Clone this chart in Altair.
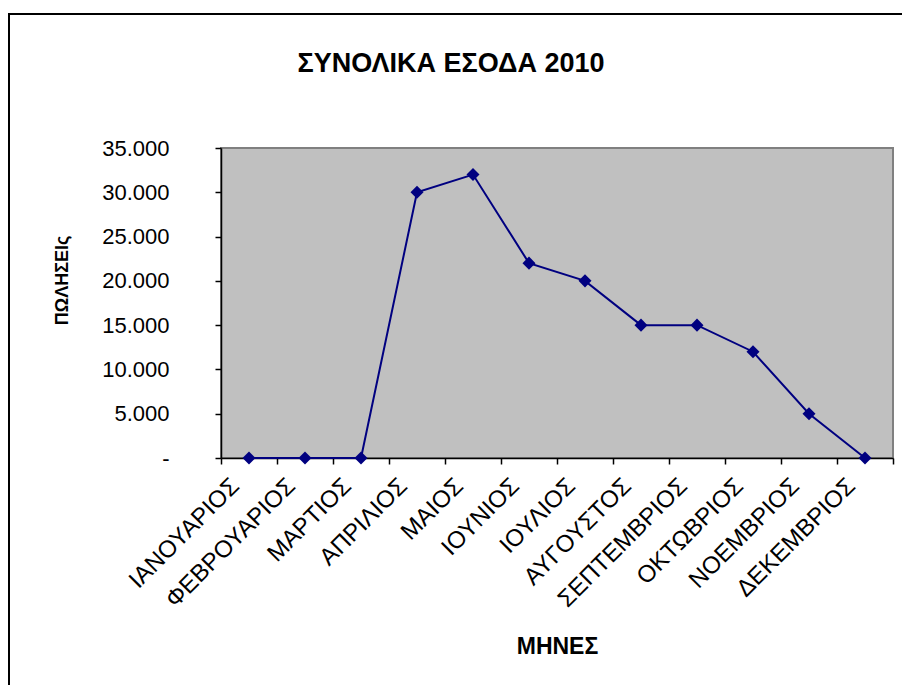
import altair as alt
import pandas as pd

months = ["ΙΑΝΟΥΑΡΙΟΣ", "ΦΕΒΡΟΥΑΡΙΟΣ", "ΜΑΡΤΙΟΣ", "ΑΠΡΙΛΙΟΣ", "ΜΑΙΟΣ", "ΙΟΥΝΙΟΣ",
          "ΙΟΥΛΙΟΣ", "ΑΥΓΟΥΣΤΟΣ", "ΣΕΠΤΕΜΒΡΙΟΣ", "ΟΚΤΩΒΡΙΟΣ", "ΝΟΕΜΒΡΙΟΣ", "ΔΕΚΕΜΒΡΙΟΣ"]
sales = [0, 0, 0, 30000, 32000, 22000, 20000, 15000, 15000, 12000, 5000, 0]
y_ticks = [0, 5000, 10000, 15000, 20000, 25000, 30000, 35000]
title_text = "ΣΥΝΟΛΙΚΑ ΕΣΟΔΑ 2010"
y_title = "ΠΩΛΗΣΕΙς"
x_title = "ΜΗΝΕΣ"

FONT = "Liberation Sans"
W, H = 672, 310

df = pd.DataFrame({"month": months, "pos": [i + 0.5 for i in range(len(months))], "sales": sales})

month_arr = "[" + ",".join("'" + m + "'" for m in months) + ",'']"
x_label_expr = month_arr + "[round(datum.value)]"
y_label_expr = "datum.value == 0 ? '-\u2007\u2007' : replace(format(datum.value, ',d'), ',', '.')"

x_enc = alt.X(
    "pos:Q",
    scale=alt.Scale(domain=[0, len(months)], nice=False, zero=False),
    axis=alt.Axis(
        values=list(range(len(months) + 1)),
        labelExpr=x_label_expr,
        labelAngle=-45,
        labelAlign="right",
        labelBaseline="middle",
        labelOffset=14,
        labelPadding=18,
        labelOverlap=False,
        labelFlush=False,
        labelBound=False,
        labelFontSize=24,
        labelFont=FONT,
        labelColor="black",
        tickSize=6,
        tickColor="black",
        tickWidth=1.5,
        domainColor="black",
        domainWidth=1.5,
        grid=False,
        title=x_title,
        titleFont=FONT,
        titleFontSize=23,
        titleFontWeight="bold",
        titleColor="black",
        titleBaseline="middle",
        titleY=188,
    ),
)
y_enc = alt.Y(
    "sales:Q",
    scale=alt.Scale(domain=[0, 35000], nice=False),
    axis=alt.Axis(
        values=y_ticks,
        labelExpr=y_label_expr,
        labelFontSize=22,
        labelFont=FONT,
        labelColor="black",
        labelPadding=46,
        tickSize=6,
        tickColor="black",
        tickWidth=1.5,
        domainColor="black",
        domainWidth=1.5,
        grid=False,
        title=y_title,
        titleFont=FONT,
        titleFontSize=18,
        titleFontWeight="bold",
        titleColor="black",
        titleAngle=-90,
        titleAlign="center",
        titleBaseline="middle",
        titleX=-159,
        titleY=132,
    ),
)

line = alt.Chart(df).mark_line(color="#000080", strokeWidth=2).encode(x=x_enc, y=y_enc)
pts = alt.Chart(df).mark_point(shape="diamond", filled=True, color="#000080", size=170, opacity=1).encode(
    x="pos:Q", y="sales:Q"
)
border = alt.Chart(pd.DataFrame({"a": [0]})).mark_rect(
    fill="transparent", stroke="black", strokeWidth=2
).encode(x=alt.value(-212), x2=alt.value(700), y=alt.value(-134), y2=alt.value(560))

chart = alt.layer(border, line, pts).properties(
    width=W,
    height=H,
    background="white",
    autosize=alt.AutoSizeParams(type="none"),
    padding={"left": 213, "top": 140, "right": 9, "bottom": 227},
    title=alt.TitleParams(
        title_text, font=FONT, fontSize=27, fontWeight="bold", color="black",
        anchor="middle", dx=-106, dy=86, offset=0, baseline="alphabetic",
    ),
).configure_view(
    fill="#C0C0C0", stroke="#808080", strokeWidth=2
)

chart.save("out.html", embed_options={"renderer": "svg", "actions": False})
